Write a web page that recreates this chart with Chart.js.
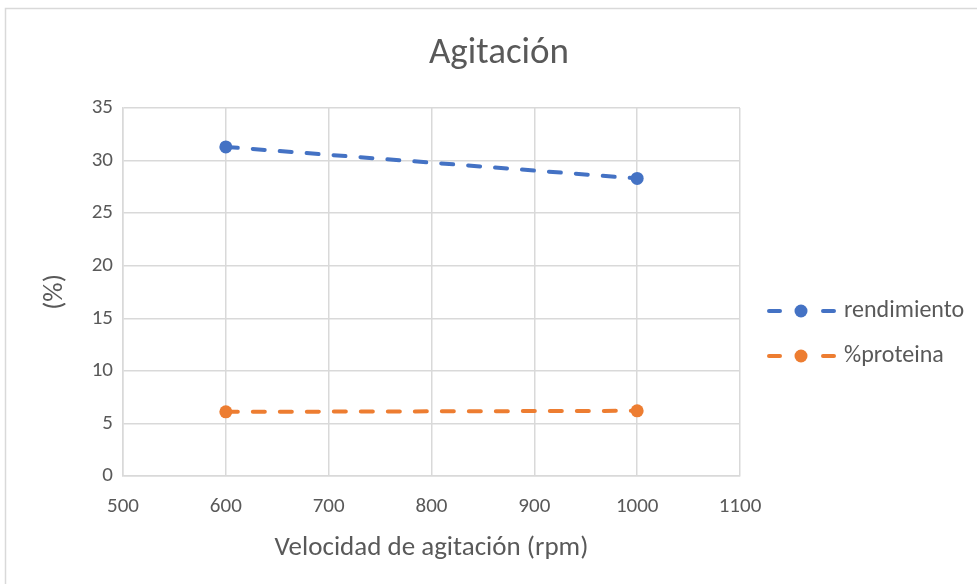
<!DOCTYPE html>
<html>
<head>
<meta charset="utf-8">
<title>Agitación</title>
<script src="https://cdn.jsdelivr.net/npm/chart.js@4.4.1/dist/chart.umd.min.js"></script>
<style>
  html, body { margin: 0; padding: 0; background: #fff; }
  #wrap { position: relative; width: 977px; height: 584px; overflow: hidden; }
</style>
</head>
<body>
<div id="wrap"><canvas id="myChart" width="977" height="584"></canvas></div>
<script>
const rpm = [600, 1000];
const rendimiento = [31.3, 28.3];
const proteina = [6.1, 6.2];
const seriesNames = ['rendimiento', '%proteina'];
const seriesColors = ['#4472C4', '#ED7D31'];

const chartTitle = 'Agitación';
const xTitle = 'Velocidad de agitación (rpm)';
const yTitle = '(%)';

const textColor = '#595959';
const gridColor = '#d9d9d9';
const fontFamily = 'Carlito, Calibri, Lato, sans-serif';

const toPoints = (xs, ys) => xs.map((x, i) => ({ x: x, y: ys[i] }));

// frame, title and legend drawn by hand (excel style)
const extras = {
  id: 'extras',
  afterDraw(chart) {
    const c = chart.ctx;
    c.save();
    c.strokeStyle = gridColor;
    c.lineWidth = 1.5;
    c.strokeRect(5.5, 8.5, 1000, 600);

    c.fillStyle = textColor;
    c.font = '37px ' + fontFamily;
    c.textAlign = 'center';
    c.textBaseline = 'middle';
    c.fillText(chartTitle, 499, 54);

    c.font = '24px ' + fontFamily;
    c.textAlign = 'left';
    chart.data.datasets.forEach((ds, i) => {
      const y = 311 + i * 45;
      c.strokeStyle = ds.borderColor;
      c.lineWidth = 4;
      c.lineCap = 'round';
      c.beginPath();
      c.moveTo(769, y); c.lineTo(780, y);
      c.moveTo(823, y); c.lineTo(834, y);
      c.stroke();
      c.fillStyle = ds.borderColor;
      c.beginPath();
      c.arc(801, y, 6.5, 0, Math.PI * 2);
      c.fill();
      c.fillStyle = textColor;
      c.fillText(ds.label, 844, y);
    });
    c.restore();
  }
};

const ctx = document.getElementById('myChart');

let chart = new Chart(ctx, {
  type: 'scatter',
  data: {
    datasets: [
      {
        label: seriesNames[0],
        data: toPoints(rpm, rendimiento),
        borderColor: seriesColors[0],
        backgroundColor: seriesColors[0],
        showLine: true,
        borderWidth: 4,
        borderDash: [12, 15],
        borderCapStyle: 'round',
        pointRadius: 6.5,
        pointBorderWidth: 0
      },
      {
        label: seriesNames[1],
        data: toPoints(rpm, proteina),
        borderColor: seriesColors[1],
        backgroundColor: seriesColors[1],
        showLine: true,
        borderWidth: 4,
        borderDash: [12, 15],
        borderCapStyle: 'round',
        pointRadius: 6.5,
        pointBorderWidth: 0
      }
    ]
  },
  options: {
    responsive: false,
    animation: false,
    layout: { padding: { top: 108, right: 237, bottom: 0, left: 0 } },
    plugins: {
      legend: { display: false },
      title: { display: false },
      tooltip: { enabled: false }
    },
    scales: {
      x: {
        type: 'linear',
        min: 500,
        max: 1100,
        afterFit: s => { s.height = 108; },
        ticks: {
          stepSize: 100,
          padding: 18,
          color: textColor,
          font: { family: fontFamily, size: 21 },
          callback: v => String(v)
        },
        grid: { color: gridColor, lineWidth: 1.5, drawTicks: false },
        border: { color: gridColor, width: 1.5 },
        title: {
          display: true,
          text: xTitle,
          color: textColor,
          font: { family: fontFamily, size: 27 },
          padding: { top: 0, bottom: 20 }
        }
      },
      y: {
        min: 0,
        max: 35,
        afterFit: s => { s.width = 123; },
        ticks: { stepSize: 5, padding: 10, color: textColor, font: { family: fontFamily, size: 21 } },
        grid: { color: gridColor, lineWidth: 1.5, drawTicks: false },
        border: { color: gridColor, width: 1.5 },
        title: {
          display: true,
          text: yTitle,
          color: textColor,
          font: { family: fontFamily, size: 27 },
          padding: { top: 39, bottom: 0 }
        }
      }
    }
  },
  plugins: [extras]
});
</script>
</body>
</html>
